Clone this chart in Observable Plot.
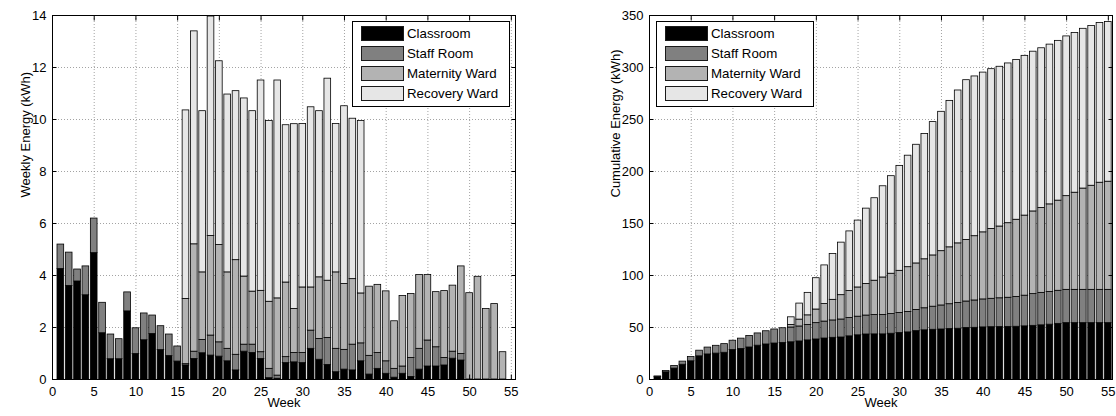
<!DOCTYPE html>
<html>
<head>
<meta charset="utf-8">
<script src="https://cdn.jsdelivr.net/npm/d3@7"></script>
<script src="https://cdn.jsdelivr.net/npm/@observablehq/plot@0.6"></script>
<style>
html, body { margin: 0; padding: 0; background: #fff; }
#wrap { position: relative; width: 1116px; height: 416px; overflow: hidden;
  font-family: Arial, "Liberation Sans", Helvetica, sans-serif; color: #000; }
.panel { position: absolute; top: 0; width: 558px; height: 416px; }
.legend { position: absolute; top: 21px; width: 156px; height: 84px; border: 1px solid #000; background: #fff; }
.legend .sw { position: absolute; left: 8px; width: 41px; height: 13px; border: 1px solid #1a1a1a; }
.legend .lab { position: absolute; left: 54px; height: 15px; line-height: 15px; font-size: 13.3px; white-space: nowrap; }
</style>
</head>
<body>
<div id="wrap"></div>
<script>
// ---- data ----
const seriesNames = ["Classroom", "Staff Room", "Maternity Ward", "Recovery Ward"];
const seriesColors = ["#000000", "#808080", "#b3b3b3", "#e6e6e6"];

const xTicks = [0, 5, 10, 15, 20, 25, 30, 35, 40, 45, 50, 55];
const yTicksWeekly = [0, 2, 4, 6, 8, 10, 12, 14];
const yTicksCumulative = [0, 50, 100, 150, 200, 250, 300, 350];

// Weekly energy (kWh) per room
const weeks = [1,2,3,4,5,6,7,8,9,10,11,12,13,14,15,16,17,18,19,20,21,22,23,24,25,26,27,28,29,30,31,32,33,34,35,36,37,38,39,40,41,42,43,44,45,46,47,48,49,50,51,52,53,54];
const classroom = [4.25,3.6,3.77,3.24,4.86,1.78,0.78,0.78,2.62,0.98,
  1.51,1.75,1.13,0.9,0.69,0.54,0.79,1.01,0.92,0.88,
  0.7,0.35,1.07,1.02,0.79,0.05,0.03,0.63,0.66,0.63,
  1.18,0.76,0.56,0.28,0.38,0.35,0.7,0.19,0.41,0.22,
  0.07,0.22,0.1,0.38,0.5,0.5,0.54,0.8,0.73,
  0,0,0,0,0];
const staffRoom = [0.94,1.28,0.46,1.11,1.33,1.17,0.95,0.77,0.73,0.99,
  1.03,0.71,0.92,0.83,0.58,0.05,0.28,0.51,0.77,0.55,
  0.48,0.6,0.27,0.32,0.26,0.36,0.12,0.23,0.36,0.39,
  0.7,0.8,1.04,0.9,0.76,0.99,0.69,0.72,0.61,0.48,
  0.34,0.28,0.73,0.8,1.0,0.74,0.29,0.27,0.25,
  0,0,0,0,0];
const maternityWard = [0,0,0,0,0,0,0,0,0,0,0,0,0,0,0,
  2.51,4.13,2.6,3.83,3.74,2.94,3.64,2.62,2.04,2.36,
  2.58,2.97,2.87,1.69,2.52,1.66,2.37,2.2,2.94,2.53,
  2.52,1.92,2.66,2.62,2.69,1.83,2.71,2.46,2.84,2.52,
  2.12,2.57,2.54,3.37,3.32,3.95,2.71,2.9,1.05];
const recoveryWard = [0,0,0,0,0,0,0,0,0,0,0,0,0,0,0,
  7.25,8.19,6.2,8.44,7.07,6.84,6.5,6.85,6.94,8.09,
  6.95,8.38,6.05,7.11,6.29,6.93,6.39,7.77,5.71,6.84,6.17,6.63,
  0,0,0,0,0,0,0,0,0,0,0,0,0,0,0,0,0];

// Cumulative energy (kWh) per room
const cumWeeks = [1,2,3,4,5,6,7,8,9,10,11,12,13,14,15,16,17,18,19,20,21,22,23,24,25,26,27,28,29,30,31,32,33,34,35,36,37,38,39,40,41,42,43,44,45,46,47,48,49,50,51,52,53,54,55];
const cumClassroom = [2.6,6.9,10.5,14.2,17.5,22.3,24.1,24.9,25.7,28.3,
  29.3,30.8,32.5,33.7,34.6,35.2,35.8,36.6,37.6,38.5,
  39.4,40.1,40.4,41.5,42.5,43.3,43.4,43.4,44.0,44.7,
  45.3,46.5,47.3,47.8,48.1,48.5,48.8,49.5,49.7,50.1,
  50.3,50.4,50.6,50.7,51.1,51.6,52.1,52.7,53.5,54.2,
  54.2,54.2,54.2,54.2,54.2];
const cumStaffRoom = [0.3,1.2,2.5,3.0,4.1,5.4,6.6,7.5,8.3,9.0,
  10.0,11.1,11.8,12.7,13.5,14.1,14.2,14.4,14.9,15.7,
  16.3,16.7,17.3,17.6,17.9,18.2,18.6,18.7,18.9,19.3,
  19.7,20.4,21.2,22.2,23.1,23.9,24.8,25.5,26.3,26.9,
  27.3,27.7,28.0,28.7,29.5,30.5,31.2,31.5,31.8,32.0,
  32.0,32.0,32.0,32.0,32.0];
const cumMaternityWard = [0,0,0,0,0,0,0,0,0,0,0,0,0,0,0,0,
  2.5,6.6,9.2,13.1,16.8,19.8,23.4,26.0,28.1,30.4,
  33.0,36.0,38.8,40.5,43.0,44.7,47.1,49.3,52.2,54.7,
  57.3,59.2,61.8,64.5,67.2,69.0,71.7,74.2,77.0,79.5,
  81.6,84.2,86.7,90.1,93.4,97.4,100.1,103.0,104.0];
const cumRecoveryWard = [0,0,0,0,0,0,0,0,0,0,0,0,0,0,0,0,
  7.3,15.4,21.6,30.1,37.2,44.0,50.5,57.3,64.3,72.4,
  79.3,87.7,93.8,100.9,107.2,114.1,120.5,128.2,134.0,140.8,147.0,
  153.6,153.6,153.6,153.6,153.6,153.6,153.6,153.6,153.6,
  153.6,153.6,153.6,153.6,153.6,153.6,153.6,153.6,153.6];

// ---- build stacked rows for the library ----
function stackRows(ws, cols) {
  const rows = [];
  ws.forEach((w, i) => {
    let base = 0;
    cols.forEach((arr, k) => {
      const v = arr[i];
      if (v > 0) rows.push({week: w, series: seriesNames[k], y1: base, y2: base + v});
      base += v;
    });
  });
  return rows;
}

const FONT = "Arial, 'Liberation Sans', Helvetica, sans-serif";

function chart({rows, yDomain, yTicks, yLabel, marginLeft, marginRight, labelDx}) {
  const tickLen = -4.5;
  return Plot.plot({
    width: 558, height: 416,
    marginTop: 15, marginBottom: 37, marginLeft, marginRight,
    style: {fontFamily: FONT, fontSize: "13px", color: "#000", background: "transparent", overflow: "visible"},
    x: {domain: [0, 55.5], ticks: xTicks},
    y: {domain: yDomain, ticks: yTicks},
    color: {domain: seriesNames, range: seriesColors},
    marks: [
      Plot.gridX(xTicks, {stroke: "#8c8c8c", strokeOpacity: 1, strokeWidth: 0.8, strokeDasharray: "1,2"}),
      Plot.gridY(yTicks, {stroke: "#8c8c8c", strokeOpacity: 1, strokeWidth: 0.8, strokeDasharray: "1,2"}),
      Plot.rectY(rows, {
        x1: d => d.week - 0.4, x2: d => d.week + 0.4,
        y1: "y1", y2: "y2", fill: "series",
        stroke: "#000", strokeWidth: 0.8
      }),
      Plot.axisX(xTicks, {anchor: "bottom", tickSize: 0, tickPadding: 7, label: null, fontSize: 13}),
      Plot.axisX(xTicks, {anchor: "bottom", tickSize: tickLen, tickFormat: () => "", label: null}),
      Plot.axisX(xTicks, {anchor: "top", tickSize: tickLen, tickFormat: () => "", label: null}),
      Plot.axisY(yTicks, {anchor: "left", tickSize: 0, tickPadding: 6, label: null, fontSize: 13}),
      Plot.axisY(yTicks, {anchor: "left", tickSize: tickLen, tickFormat: () => "", label: null}),
      Plot.axisY(yTicks, {anchor: "right", tickSize: tickLen, tickFormat: () => "", label: null}),
      Plot.frame({stroke: "#000", strokeWidth: 1}),
      Plot.text([yLabel], {text: d => d, frameAnchor: "left", rotate: -90, dx: labelDx, fontSize: 13}),
      Plot.text(["Week"], {text: d => d, frameAnchor: "bottom", dy: 27, fontSize: 13})
    ]
  });
}

const wrap = document.getElementById("wrap");

function addPanel(left, svg) {
  const p = document.createElement("div");
  p.className = "panel";
  p.style.left = left + "px";
  p.appendChild(svg);
  wrap.appendChild(p);
}

function addLegend(left) {
  const box = document.createElement("div");
  box.className = "legend";
  box.style.left = left + "px";
  seriesNames.forEach((name, i) => {
    const sw = document.createElement("div");
    sw.className = "sw";
    sw.style.top = (4 + 20 * i) + "px";
    sw.style.background = seriesColors[i];
    const lab = document.createElement("div");
    lab.className = "lab";
    lab.style.top = (4 + 20 * i) + "px";
    lab.textContent = name;
    box.appendChild(sw);
    box.appendChild(lab);
  });
  wrap.appendChild(box);
}

addPanel(0, chart({
  rows: stackRows(weeks, [classroom, staffRoom, maternityWard, recoveryWard]),
  yDomain: [0, 14], yTicks: yTicksWeekly, yLabel: "Weekly Energy (kWh)",
  marginLeft: 52, marginRight: 43, labelDx: -27
}));
addPanel(558, chart({
  rows: stackRows(cumWeeks, [cumClassroom, cumStaffRoom, cumMaternityWard, cumRecoveryWard]),
  yDomain: [0, 350], yTicks: yTicksCumulative, yLabel: "Cumulative Energy (kWh)",
  marginLeft: 91, marginRight: 4, labelDx: -34
}));
addLegend(352);
addLegend(656);
</script>
</body>
</html>
